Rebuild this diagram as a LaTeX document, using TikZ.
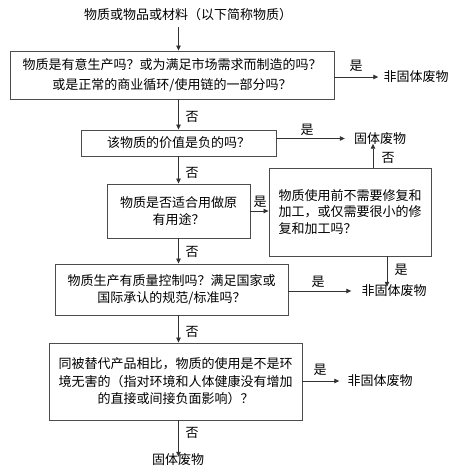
\documentclass[tikz,border=0pt]{standalone}
\usepackage{fontspec}
\newfontfamily\cjk{Noto Sans CJK SC}
\usetikzlibrary{arrows.meta,calc}
\begin{document}
\begin{tikzpicture}[x=1pt,y=-1pt,
  every node/.style={font=\cjk\fontsize{13}{17.5}\selectfont, text=black, inner sep=1pt},
  box/.style={draw=black!70, line width=0.9pt, align=center},
  lbl/.style={inner sep=0pt},
  arr/.style={draw=black!80, line width=0.8pt, -{Triangle[length=5pt,width=4.5pt]}}]
\useasboundingbox (0,0) rectangle (458,473);
% nodes
\node (top) at (188,15) {物质或物品或材料（以下简称物质）};
\node[box, minimum width=324pt, minimum height=48pt, font=\cjk\fontsize{13}{19.5}\selectfont] (b1) at (172,75)
  {物质是有意生产吗？或为满足市场需求而制造的吗？\\或是正常的商业循环/使用链的一部分吗？};
\node (n1) at (416,77) {非固体废物};
\node[box, minimum width=195pt, minimum height=26pt] (b2) at (178.5,143) {该物质的价值是负的吗？};
\node (f1) at (380,138.5) {固体废物};
\node[box, minimum width=143pt, minimum height=54pt] (b4) at (178.5,211) {物质是否适合用做原\\有用途？};
\node[box, minimum width=162pt, minimum height=88pt, align=left, font=\cjk\fontsize{13}{16.8}\selectfont] (b3) at (350,212)
  {物质使用前不需要修复和\\加工，或仅需要很小的修\\复和加工吗？};
\node (n2) at (394,291) {非固体废物};
\node[box, minimum width=233pt, minimum height=51pt] (b5) at (171.5,289.5) {物质生产有质量控制吗？满足国家或\\国际承认的规范/标准吗？};
\node[box, minimum width=253pt, minimum height=77pt] (b6) at (175.5,381.5)
  {同被替代产品相比，物质的使用是不是环\\境无害的（指对环境和人体健康没有增加\\的直接或间接负面影响）？};
\node (n3) at (380,381) {非固体废物};
\node (f2) at (178,460) {固体废物};
% connectors
\draw[arr] ([yshift=-5pt]top.south -| b2) -- (b1.north -| b2);
\draw[arr] (b1.east |- n1.west) -- ([xshift=-4pt]n1.west);
\draw[arr] (b1.south -| b2) -- (b2.north);
\draw[arr] (b2.east |- f1.west) -- ([xshift=-8pt]f1.west);
\draw[arr] (b2.south) -- (b4.north);
\draw[arr] (b4.east) -- (b4.east -| b3.west);
\draw[arr] ([xshift=23pt]b3.north) -- ([xshift=23pt,yshift=2pt]b3.north |- f1.south);
\draw[arr] ([xshift=37pt]b3.south) -- ([xshift=37pt,yshift=-3pt]b3.south |- n2.north);
\draw[arr] (b4.south) -- (b5.north -| b4);
\draw[arr] (b5.east |- n2.west) -- ([xshift=-9pt]n2.west);
\draw[arr] (b5.south -| b2) -- (b6.north -| b2);
\draw[arr] (b6.east |- n3.west) -- ([xshift=-7pt]n3.west);
\draw[arr] (b6.south -| b2) -- ([yshift=-4pt]f2.north -| b2);
% labels
\node[lbl] at (356,66) {是};
\node[lbl] at (192,117) {否};
\node[lbl] at (307,130) {是};
\node[lbl] at (388,158) {否};
\node[lbl] at (192,173) {否};
\node[lbl] at (260,202) {是};
\node[lbl] at (192,252) {否};
\node[lbl] at (401,270) {是};
\node[lbl] at (318,282) {是};
\node[lbl] at (192,332) {否};
\node[lbl] at (320,370) {是};
\node[lbl] at (192,433) {否};
\end{tikzpicture}
\end{document}
